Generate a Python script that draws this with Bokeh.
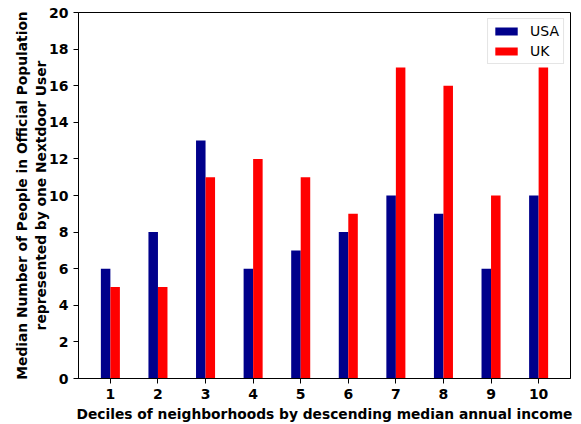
from bokeh.plotting import figure
from bokeh.models import ColumnDataSource, FixedTicker, Legend, LegendItem, Range1d
from bokeh.embed import file_html
from bokeh.resources import INLINE

deciles = [1, 2, 3, 4, 5, 6, 7, 8, 9, 10]
usa = [6, 8, 13, 6, 7, 8, 10, 9, 6, 10]
uk = [5, 5, 11, 12, 11, 9, 17, 16, 10, 17]

BAR_W = 0.2
FONT = "DejaVu Sans"

src = ColumnDataSource(dict(
    x_usa=[d - BAR_W / 2 for d in deciles],
    x_uk=[d + BAR_W / 2 for d in deciles],
    usa=usa,
    uk=uk,
))

p = figure(
    width=581, height=424,
    output_backend="svg", toolbar_location=None,
    x_range=Range1d(0.33, 10.67), y_range=Range1d(0, 20),
    min_border_left=78, min_border_right=11,
    min_border_top=12, min_border_bottom=46,
)
p.background_fill_color = "white"
p.border_fill_color = "white"
p.outline_line_color = "black"
p.outline_line_width = 1
p.xgrid.visible = False
p.ygrid.visible = False

r_usa = p.vbar(x="x_usa", top="usa", width=BAR_W, source=src,
               fill_color="#00008b", line_color=None)
r_uk = p.vbar(x="x_uk", top="uk", width=BAR_W, source=src,
              fill_color="#ff0000", line_color=None)

for ax in (p.xaxis[0], p.yaxis[0]):
    ax.major_tick_out = 5
    ax.major_tick_in = 0
    ax.minor_tick_out = 0
    ax.minor_tick_in = 0
    ax.axis_line_color = "black"
    ax.major_tick_line_color = "black"
    ax.major_label_text_font = FONT
    ax.major_label_text_font_style = "bold"
    ax.major_label_text_font_size = "14px"
    ax.major_label_text_color = "black"
    ax.axis_label_text_font = FONT
    ax.axis_label_text_font_style = "bold"
    ax.axis_label_text_font_size = "13.8px"
    ax.axis_label_text_color = "black"

p.xaxis.ticker = FixedTicker(ticks=deciles)
p.yaxis.ticker = FixedTicker(ticks=list(range(0, 21, 2)))
p.xaxis.major_label_standoff = 5
p.yaxis.major_label_standoff = 5
p.xaxis.axis_label = "Deciles of neighborhoods by descending median annual income"
p.xaxis.axis_label_standoff = 4
p.yaxis.axis_label = "Median Number of People in Official Population\nrepresented by one Nextdoor User"
p.yaxis.axis_label_standoff = -3

legend = Legend(
    items=[LegendItem(label="USA", renderers=[r_usa]),
           LegendItem(label="UK", renderers=[r_uk])],
    location="top_right",
    label_text_font=FONT,
    label_text_font_size="14px",
    label_text_color="black",
    glyph_width=28, glyph_height=10,
    label_height=14,
    label_standoff=10,
    spacing=4,
    padding=4,
    margin=6,
    border_line_color="#cccccc",
    border_line_width=1,
    background_fill_color="white",
    background_fill_alpha=0.8,
)
p.add_layout(legend)

open("out.html", "w").write(file_html(p, INLINE))
